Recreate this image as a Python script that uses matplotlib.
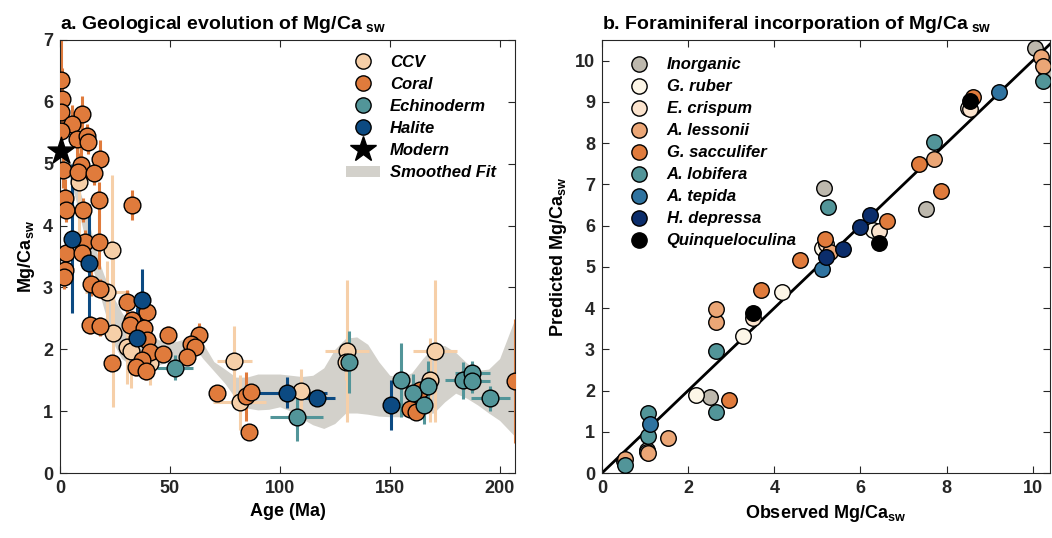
"""
Mg/Ca of seawater: geological record (a) and foraminiferal calibration (b).
"""

import matplotlib
matplotlib.use("Agg")
import matplotlib.pyplot as plt
from matplotlib.patches import Patch
from matplotlib.lines import Line2D
import numpy as np

plt.rcParams['font.family'] = ['Liberation Sans', 'DejaVu Sans']
plt.rcParams['font.weight'] = 'bold'
plt.rcParams['mathtext.fontset'] = 'custom'
plt.rcParams['mathtext.rm'] = 'Liberation Sans:bold'
plt.rcParams['mathtext.bf'] = 'Liberation Sans:bold'
plt.rcParams['mathtext.it'] = 'Liberation Sans:bold:italic'

# ---------------- panel a data: age (Ma), Mg/Ca, age error, Mg/Ca error
ccv_age = [8.6, 23.8, 21.2, 24.2, 30.3, 32.3, 40.9, 79.2, 81.8, 109.5, 130.5, 130.3, 168.5, 170.5]
ccv_val = [4.70, 3.61, 2.92, 2.26, 2.04, 1.97, 1.78, 1.81, 1.14, 1.33, 1.97, 1.80, 1.51, 1.97]
ccv_xerr = [0, 0, 10, 0, 0, 0, 0, 8, 12, 0, 10, 0, 0, 10]
ccv_yerr = [0.9, 1.2, 0.5, 1.2, 0.6, 0.6, 0.35, 0.56, 0.45, 0.35, 1.15, 0.3, 0.68, 1.15]

coral_age = [0.3, 0.8, 0.5, 10.1, 5.5, 0.3, 7.6, 12.1, 12.6, 18.2, 9.5, 1.2, 8.3, 15.6,
             2.3, 17.9, 2.6, 10.6, 32.6, 11.4, 17.9, 2.7, 10.1, 2.3, 1.8, 14.1, 18.2,
             30.3, 39.4, 32.6, 31.8, 38.3, 13.6, 18.2, 39.4, 49.2, 63.3, 59.8, 61.4,
             40.9, 47.0, 57.6, 23.8, 37.1, 34.5, 39.0, 71.6, 84.6, 87.1, 86.0,
             159.1, 162.1, 163.6, 206.8]
coral_val = [6.35, 6.04, 5.84, 5.80, 5.65, 5.53, 5.40, 5.44, 5.35, 5.08, 4.98, 4.90, 4.87, 4.85,
             4.45, 4.41, 4.25, 4.25, 4.33, 3.73, 3.74, 3.56, 3.56, 3.28, 3.17, 3.06, 2.98,
             2.76, 2.61, 2.47, 2.39, 2.34, 2.39, 2.37, 2.15, 2.23, 2.23, 2.09, 2.04,
             1.96, 1.92, 1.88, 1.78, 1.83, 1.72, 1.65, 1.29, 1.24, 1.31, 0.67,
             1.03, 0.99, 1.34, 1.49]
coral_yerr = [0.7, 0.5, 0.4, 0.3, 0.3, 0.4, 0.3, 0.2, 0.2, 0.3, 0.3, 0.3, 0.3, 0.2,
              0.3, 0.3, 0.2, 0.2, 0.24, 0.2, 0.45, 0.2, 0.2, 0.2, 0.2, 0.2, 0.15,
              0.2, 0.2, 0.15, 0.15, 0.15, 0.15, 0.15, 0.15, 0.15, 0.2, 0.1, 0.1,
              0.15, 0.1, 0.1, 0.1, 0.15, 0.15, 0.15, 0.1, 0.4, 0.1, 0.1,
              0.1, 0.1, 0.1, 1.0]

echino_age = [52.3, 107.6, 131.5, 155.3, 160.6, 165.5, 167.4, 183.3, 187.6, 187.6, 195.8]
echino_val = [1.70, 0.91, 1.80, 1.50, 1.30, 1.10, 1.41, 1.50, 1.61, 1.49, 1.21]
echino_xerr = [8, 12, 0, 3, 3, 0, 0, 8, 8, 8, 9]
echino_yerr = [0.2, 0.4, 0.5, 0.6, 0.3, 0.3, 0.4, 0.3, 0.2, 0.2, 0.2]

halite_age = [5.6, 13.2, 37.1, 35.2, 103.3, 117.0, 150.5]
halite_val = [3.79, 3.40, 2.79, 2.19, 1.30, 1.21, 1.10]
halite_xerr = [0, 0, 0, 0, 18, 8, 0]
halite_yerr = [1.2, 0.95, 0.5, 0.5, 0.25, 0.1, 0.4]

modern_age = [0.5]
modern_val = [5.2]

fit_age = [0, 2, 5, 8, 10, 12, 15, 18, 20, 23, 25, 28, 30, 35, 40, 45, 50, 55, 60, 63,
           65, 70, 75, 80, 85, 90, 95, 100, 105, 110, 115, 120, 125, 130, 135, 140,
           145, 150, 155, 160, 165, 170, 175, 180, 185, 190, 195, 200, 207]
fit_hi = [5.35, 5.25, 5.0, 4.7, 4.45, 4.2, 3.8, 3.4, 3.2, 2.95, 2.8, 2.6, 2.5, 2.35, 2.25,
          2.15, 2.1, 2.15, 2.2, 2.2, 2.1, 1.8, 1.68, 1.55, 1.55, 1.6, 1.6, 1.6, 1.58, 1.56,
          1.58, 1.7, 2.0, 2.18, 2.2, 2.08, 1.8, 1.58, 1.55, 1.62, 1.85, 2.04, 2.06, 1.95,
          1.78, 1.66, 1.68, 1.85, 2.5]
fit_lo = [5.05, 4.95, 4.7, 4.3, 4.0, 3.7, 3.3, 2.9, 2.65, 2.3, 2.05, 1.85, 1.8, 1.75, 1.7,
          1.75, 1.8, 1.85, 1.9, 1.95, 1.85, 1.65, 1.45, 1.2, 1.05, 1.02, 1.03, 1.07, 1.0,
          0.88, 0.78, 0.72, 0.8, 0.97, 0.97, 0.95, 0.92, 0.91, 0.91, 0.93, 0.95, 0.97,
          1.15, 1.29, 1.21, 1.1, 0.97, 0.85, 0.59]

# ---------------- panel b data: observed, predicted Mg/Ca per species
species = ['Inorganic', 'G. ruber', 'E. crispum', 'A. lessonii', 'G. sacculifer',
           'A. lobifera', 'A. tepida', 'H. depressa', 'Quinqueloculina']
sp_colors = ['#bdb8ad', '#fdf6e7', '#fbe3cd', '#eba676', '#e07b3c',
             '#529599', '#2f73a0', '#0b2d6b', '#000000']
inorg_obs = [10.05, 10.3, 7.53, 5.16, 2.51, 1.04, 0.5]
inorg_pred = [10.3, 9.75, 6.41, 6.91, 1.85, 0.55, 0.3]
ruber_obs = [2.18, 3.28, 4.17, 6.30, 5.10, 1.05, 8.5]
ruber_pred = [1.89, 3.33, 4.40, 5.90, 5.45, 0.5, 8.85]
crisp_obs = [3.51, 8.55, 6.43, 5.2]
crisp_pred = [3.75, 8.83, 5.86, 5.55]
less_obs = [0.53, 1.06, 1.54, 2.65, 2.65, 5.29, 7.70, 10.2, 10.24]
less_pred = [0.33, 0.48, 0.84, 3.65, 3.98, 5.37, 7.62, 10.09, 9.86]
sacc_obs = [2.95, 3.69, 4.59, 5.17, 6.61, 7.35, 7.87, 8.61]
sacc_pred = [1.77, 4.44, 5.17, 5.67, 6.10, 7.50, 6.84, 9.11]
lobi_obs = [0.53, 1.06, 1.07, 2.64, 2.64, 5.24, 7.70, 10.24]
lobi_pred = [0.19, 1.45, 0.90, 1.47, 2.96, 6.46, 8.03, 9.50]
tepi_obs = [1.11, 5.10, 9.21]
tepi_pred = [1.18, 4.94, 9.24]
depr_obs = [5.20, 5.60, 5.99, 6.23]
depr_pred = [5.25, 5.43, 5.96, 6.26]
quin_obs = [3.51, 8.55, 6.43]
quin_pred = [3.88, 9.01, 5.58]

C_CCV = '#f6cfa8'
C_CORAL = '#e07b3c'
C_ECHINO = '#529599'
C_HALITE = '#0c4a82'
C_FIT = '#d3d1cb'

fig = plt.figure(figsize=(10.52, 5.38), dpi=100)
ax1 = fig.add_axes([60 / 1052, 1 - 473 / 538, 455 / 1052, 433 / 538])
ax2 = fig.add_axes([602 / 1052, 1 - 473 / 538, 448 / 1052, 433 / 538])

# ---- panel a
ax1.fill_between(fit_age, fit_lo, fit_hi, color=C_FIT, lw=0, zorder=1)

ms = 145
ax1.errorbar(ccv_age, ccv_val, xerr=ccv_xerr, yerr=ccv_yerr, fmt='none',
             ecolor=C_CCV, elinewidth=2.2, capsize=0, zorder=2)
ax1.errorbar(coral_age, coral_val, yerr=coral_yerr, fmt='none',
             ecolor=C_CORAL, elinewidth=2.2, capsize=0, zorder=2)
ax1.errorbar(echino_age, echino_val, xerr=echino_xerr, yerr=echino_yerr, fmt='none',
             ecolor=C_ECHINO, elinewidth=2.2, capsize=0, zorder=2)
ax1.errorbar(halite_age, halite_val, xerr=halite_xerr, yerr=halite_yerr, fmt='none',
             ecolor=C_HALITE, elinewidth=2.2, capsize=0, zorder=2)

ax1.scatter(ccv_age, ccv_val, s=ms, c=C_CCV, edgecolors='k', linewidths=1, zorder=3)
ax1.scatter(coral_age, coral_val, s=ms, c=C_CORAL, edgecolors='k', linewidths=1, zorder=3)
ax1.scatter(echino_age, echino_val, s=ms, c=C_ECHINO, edgecolors='k', linewidths=1, zorder=3)
ax1.scatter(halite_age, halite_val, s=ms, c=C_HALITE, edgecolors='k', linewidths=1, zorder=3)
ax1.scatter(modern_age, modern_val, s=420, c='k', marker='*', zorder=4, clip_on=False)

ax1.set_xlim(0, 207)
ax1.set_ylim(0, 7)
ax1.set_xticks([0, 50, 100, 150, 200])
ax1.set_yticks(range(8))
ax1.set_xlabel('Age (Ma)', fontsize=13, fontweight='bold')
ax1.set_ylabel(r'Mg/Ca$_{\mathbf{sw}}$', fontsize=13, fontweight='bold', labelpad=4)
ax1.set_title(r'a. Geological evolution of Mg/Ca$_{\mathbf{\ sw}}$', loc='left',
              fontsize=14, fontweight='bold', pad=8)

handles_a = [
    Line2D([], [], ls='', marker='o', ms=11, mfc=C_CCV, mec='k', label='CCV'),
    Line2D([], [], ls='', marker='o', ms=11, mfc=C_CORAL, mec='k', label='Coral'),
    Line2D([], [], ls='', marker='o', ms=11, mfc=C_ECHINO, mec='k', label='Echinoderm'),
    Line2D([], [], ls='', marker='o', ms=11, mfc=C_HALITE, mec='k', label='Halite'),
    Line2D([], [], ls='', marker='*', ms=19, mfc='k', mec='k', label='Modern'),
    Patch(facecolor=C_FIT, edgecolor='none', label='Smoothed Fit'),
]
ax1.legend(handles=handles_a, loc='upper left', bbox_to_anchor=(0.615, 0.98),
           frameon=False, prop={'weight': 'bold', 'style': 'italic', 'size': 12},
           labelspacing=0.42, handlelength=2.0, handletextpad=0.6, borderaxespad=0)

# ---- panel b
groups = [(inorg_obs, inorg_pred), (ruber_obs, ruber_pred), (crisp_obs, crisp_pred),
          (less_obs, less_pred), (sacc_obs, sacc_pred), (lobi_obs, lobi_pred),
          (tepi_obs, tepi_pred), (depr_obs, depr_pred), (quin_obs, quin_pred)]
ax2.plot([0, 10.5], [0, 10.5], color='k', lw=2, zorder=2)
handles_b = []
for (ox, py), name, col in zip(groups, species, sp_colors):
    ax2.scatter(ox, py, s=125, c=col, edgecolors='k', linewidths=1, zorder=3, clip_on=True)
    handles_b.append(Line2D([], [], ls='', marker='o', ms=11, mfc=col, mec='k', label=name))

ax2.set_xlim(0, 10.4)
ax2.set_ylim(0, 10.5)
ax2.set_xticks(range(0, 11, 2))
ax2.set_yticks(range(0, 11))
ax2.set_xlabel(r'Observed Mg/Ca$_{\mathbf{sw}}$', fontsize=13, fontweight='bold')
ax2.set_ylabel(r'Predicted Mg/Ca$_{\mathbf{sw}}$', fontsize=13, fontweight='bold', labelpad=4)
ax2.set_title(r'b. Foraminiferal incorporation of Mg/Ca$_{\mathbf{\ sw}}$', loc='left',
              fontsize=14, fontweight='bold', pad=8)
ax2.legend(handles=handles_b, loc='upper left', bbox_to_anchor=(0.04, 0.975),
           frameon=False, prop={'weight': 'bold', 'style': 'italic', 'size': 12},
           labelspacing=0.42, handlelength=1.5, handletextpad=0.9, borderaxespad=0)

for ax in (ax1, ax2):
    ax.tick_params(direction='in', top=True, right=True, length=5, width=0.8,
                   labelsize=13, colors='#262626', pad=5)
    for lab in ax.get_xticklabels() + ax.get_yticklabels():
        lab.set_fontweight('bold')
    for sp in ax.spines.values():
        sp.set_color('#262626')
        sp.set_linewidth(0.8)

fig.savefig('out.png', dpi=100)
